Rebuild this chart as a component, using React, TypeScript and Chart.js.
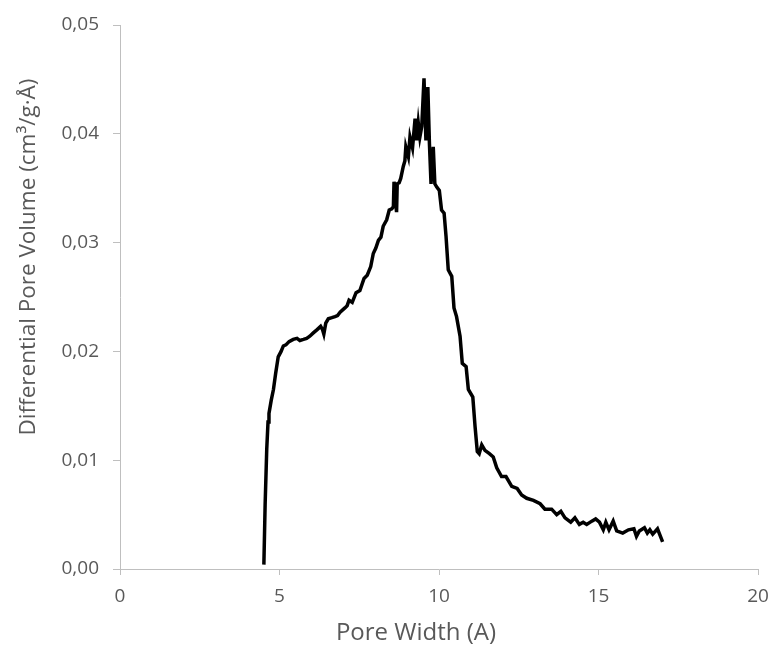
import React, { useEffect, useRef } from "react";
import { Chart, registerables } from "chart.js";

Chart.register(...registerables);

const poreWidth: number[] = [
  4.51, 4.55, 4.6, 4.64, 4.67, 4.74, 4.81, 4.88, 4.96, 5.05, 5.12, 5.2, 5.3, 5.43, 5.55, 5.64, 5.75, 5.85, 5.95, 6.06,
  6.18, 6.29, 6.35, 6.39, 6.45, 6.53, 6.64, 6.74, 6.82, 6.9, 7.05, 7.12, 7.18, 7.28, 7.4, 7.52, 7.65, 7.75, 7.86, 7.94,
  8.02, 8.1, 8.18, 8.25, 8.36, 8.44, 8.52, 8.57, 8.59, 8.63, 8.67, 8.69, 8.75, 8.8, 8.88, 8.93, 8.96, 9.04, 9.09, 9.17,
  9.25, 9.3, 9.35, 9.4, 9.46, 9.53, 9.59, 9.65, 9.7, 9.75, 9.82, 9.87, 9.93, 10.01, 10.08, 10.16, 10.22, 10.29, 10.4, 10.47,
  10.55, 10.66, 10.73, 10.85, 10.92, 11.06, 11.13, 11.2, 11.26, 11.34, 11.44, 11.58, 11.7, 11.81, 11.96, 12.1, 12.28, 12.45, 12.59, 12.75,
  12.96, 13.17, 13.32, 13.53, 13.69, 13.82, 13.95, 14.13, 14.26, 14.4, 14.52, 14.63, 14.79, 14.91, 15.03, 15.15, 15.23, 15.33, 15.46, 15.57,
  15.76, 15.94, 16.11, 16.19, 16.28, 16.44, 16.53, 16.61, 16.7, 16.85, 16.93, 17.01,
];

const poreVolume: number[] = [
  0.0004, 0.006, 0.011, 0.0135, 0.0143, 0.0155, 0.0165, 0.018, 0.0195, 0.02, 0.0205, 0.0206, 0.0209, 0.0211, 0.0212, 0.021, 0.0211, 0.0212, 0.0214, 0.0217,
  0.022, 0.0223, 0.022, 0.0216, 0.0226, 0.023, 0.0231, 0.0232, 0.0233, 0.0236, 0.024, 0.0242, 0.0247, 0.0245, 0.0254, 0.0256, 0.0267, 0.027, 0.0278, 0.029,
  0.0295, 0.0302, 0.0305, 0.0315, 0.0321, 0.033, 0.0331, 0.0333, 0.0356, 0.034, 0.0328, 0.0354, 0.0355, 0.0359, 0.037, 0.0375, 0.0388, 0.0379, 0.0397, 0.0387,
  0.0414, 0.0394, 0.041, 0.0397, 0.0407, 0.0451, 0.0394, 0.0443, 0.0391, 0.0354, 0.0388, 0.0354, 0.0351, 0.0348, 0.033, 0.0327, 0.0306, 0.0275, 0.0269, 0.024,
  0.0232, 0.0214, 0.0189, 0.0186, 0.0165, 0.0158, 0.0131, 0.0108, 0.0106, 0.0114, 0.0109, 0.0106, 0.0103, 0.0093, 0.0085, 0.0085, 0.0076, 0.0074, 0.0068, 0.0065,
  0.0063, 0.006, 0.0055, 0.0055, 0.005, 0.0053, 0.0047, 0.0043, 0.0047, 0.0041, 0.0043, 0.0041, 0.0044, 0.0046, 0.0043, 0.0036, 0.0043, 0.0036, 0.0044, 0.0035,
  0.0033, 0.0036, 0.0037, 0.003, 0.0035, 0.0038, 0.0033, 0.0036, 0.0032, 0.0037, 0.0031, 0.0025,
];

const xTitle = "Pore Width (A)";
const yTitle = "Differential Pore Volume (cm³/g·Å)";

const FONT = "'Open Sans', 'DejaVu Sans', sans-serif";
const TEXT = "#595959";
const AXIS = "#bfbfbf";

const titlesPlugin = {
  id: "customTitles",
  afterDraw(chart: any) {
    const ctx = chart.ctx;
    ctx.save();
    ctx.fillStyle = TEXT;
    ctx.textAlign = "center";
    ctx.textBaseline = "middle";
    ctx.font = `24px ${FONT}`;
    ctx.fillText(xTitle, 416, 633);
    ctx.font = `22.5px ${FONT}`;
    ctx.translate(29, 257);
    ctx.rotate(-Math.PI / 2);
    ctx.fillText(yTitle, 0, 0);
    ctx.restore();
  },
};

export default function App() {
  const ref = useRef<HTMLCanvasElement | null>(null);

  useEffect(() => {
    if (!ref.current) return;
    const data = poreWidth.map((x, i) => ({ x, y: poreVolume[i] }));
    const chart = new Chart(ref.current, {
      type: "line",
      data: {
        datasets: [
          {
            data,
            borderColor: "#000000",
            borderWidth: 3.5,
            pointRadius: 0,
            tension: 0,
            fill: false,
          },
        ],
      },
      options: {
        responsive: false,
        animation: false,
        layout: { padding: { top: 25, right: 11, left: 0, bottom: 0 } },
        plugins: { legend: { display: false }, tooltip: { enabled: false }, title: { display: false } },
        scales: {
          x: {
            type: "linear",
            min: 0,
            max: 20,
            afterFit(scale: any) {
              scale.height = 79;
              scale.paddingLeft = 0;
              scale.paddingRight = 0;
            },
            ticks: {
              stepSize: 5,
              color: TEXT,
              font: { family: FONT, size: 19 },
              padding: 10,
              maxRotation: 0,
            },
            grid: { drawOnChartArea: false, drawTicks: true, tickLength: 6, color: AXIS },
            border: { color: AXIS, width: 1 },
          },
          y: {
            type: "linear",
            min: 0,
            max: 0.05,
            afterFit(scale: any) {
              scale.width = 120;
              scale.paddingTop = 0;
              scale.paddingBottom = 0;
            },
            ticks: {
              stepSize: 0.01,
              color: TEXT,
              font: { family: FONT, size: 19 },
              padding: 14,
              callback: (v: any) => Number(v).toFixed(2).replace(".", ","),
            },
            grid: { drawOnChartArea: false, drawTicks: true, tickLength: 7, color: AXIS },
            border: { color: AXIS, width: 1 },
          },
        },
      },
      plugins: [titlesPlugin],
    });
    return () => chart.destroy();
  }, []);

  return (
    <div style={{ position: "fixed", left: 0, top: 0, width: 769, height: 648, background: "#fff" }}>
      <canvas ref={ref} width={769} height={648} style={{ width: 769, height: 648, display: "block" }} />
    </div>
  );
}
